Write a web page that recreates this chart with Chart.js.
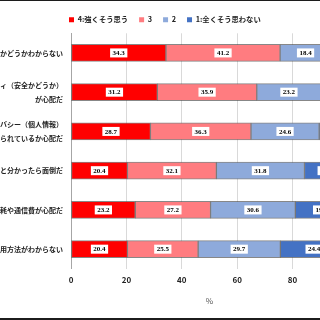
<!DOCTYPE html>
<html>
<head>
<meta charset="utf-8">
<script src="https://cdn.jsdelivr.net/npm/chart.js@4"></script>
<style>
  html, body { margin: 0; padding: 0; background: #fff; }
  #frame {
    position: relative; width: 320px; height: 320px; overflow: hidden;
    box-sizing: border-box; border-top: 1px solid #1c1c1c; border-bottom: 2px solid #1c1c1c;
  }
  #chart { position: absolute; left: -130px; top: -1px; }
</style>
</head>
<body>
<div id="frame"><canvas id="chart" width="491" height="320"></canvas></div>
<script>
// ========= Data =========
const categories = [
  "役に立つかどうかわからない",
  ["セキュリティ（安全かどうか）", "が心配だ"],
  ["プライバシー（個人情報）", "が守られているか心配だ"],
  "使い方が難しいと分かったら面倒だ",
  "電池の消耗や通信費が心配だ",
  "利用方法がわからない"
];
const seriesNames = ["4:強くそう思う", "3", "2", "1:全くそう思わない"];
const strongly = [34.3, 31.2, 28.7, 20.4, 23.2, 20.4];
const agree = [41.2, 35.9, 36.3, 32.1, 27.2, 25.5];
const disagree = [18.4, 23.2, 24.6, 31.8, 30.6, 29.7];
const notAtAll = [6.1, 9.7, 10.4, 15.7, 19.0, 24.4];
const xTicks = [0, 20, 40, 60, 80, 100];

const colors = ["#ff0000", "#ff7c80", "#8eaadb", "#4472c4"];
const jp = '"Noto Sans CJK JP", "Noto Sans", sans-serif';

// ========= Plugins =========
// value labels in white boxes at the middle of each segment
const valueLabels = {
  id: "valueLabels",
  afterDatasetsDraw(chart) {
    const ctx = chart.ctx;
    ctx.save();
    ctx.font = 'bold 7px "Liberation Serif", serif';
    ctx.textAlign = "center";
    ctx.textBaseline = "middle";
    chart.data.datasets.forEach((ds, i) => {
      chart.getDatasetMeta(i).data.forEach((bar, j) => {
        const txt = ds.data[j].toFixed(1);
        const cx = (bar.x + bar.base) / 2;
        const w = ctx.measureText(txt).width + 5;
        ctx.fillStyle = "#fff";
        ctx.fillRect(cx - w / 2, bar.y - 4.5, w, 9);
        ctx.fillStyle = "#000";
        ctx.fillText(txt, cx, bar.y + 0.5);
      });
    });
    ctx.restore();
  }
};

// legend starts at the left edge of the plot
const legendShift = {
  id: "legendShift",
  afterLayout(chart) {
    const lg = chart.legend;
    lg.left = chart.chartArea.left - 2 - lg.options.labels.padding;
  }
};

// ========= Chart =========
new Chart(document.getElementById("chart"), {
  type: "bar",
  data: {
    labels: categories,
    datasets: [strongly, agree, disagree, notAtAll].map((d, i) => ({
      label: seriesNames[i],
      data: d,
      backgroundColor: colors[i],
      borderColor: "rgba(70,70,70,0.65)",
      borderWidth: 1,
      borderSkipped: false,
      barThickness: 17
    }))
  },
  options: {
    indexAxis: "y",
    responsive: false,
    animation: false,
    layout: { padding: { top: 5, left: 0, right: 12, bottom: 10 } },
    plugins: {
      tooltip: { enabled: false },
      legend: {
        position: "top",
        align: "start",
        fullSize: false,
        labels: {
          boxWidth: 5,
          boxHeight: 5,
          padding: 11,
          color: "#222",
          font: { family: jp, size: 7.3, weight: "bold" },
          generateLabels: chart =>
            Chart.defaults.plugins.legend.labels.generateLabels(chart).map(l => ({ ...l, lineWidth: 0 }))
        }
      }
    },
    scales: {
      x: {
        stacked: true,
        min: 0,
        max: 100,
        afterBuildTicks: s => { s.ticks = xTicks.map(v => ({ value: v })); },
        ticks: { padding: 6, color: "#222", font: { family: jp, size: 8, weight: "bold" } },
        grid: { color: "#d9d9d9", drawTicks: false },
        border: { display: false },
        title: { display: true, text: "%", color: "#555", font: { family: jp, size: 8 }, padding: { top: 6, bottom: 4 } }
      },
      y: {
        stacked: true,
        grid: { display: false, drawTicks: false },
        border: { color: "#a6a6a6" },
        ticks: { padding: 8, color: "#222", font: { family: jp, size: 7, weight: "bold", lineHeight: 2 } },
        afterFit: s => { s.width = 201; }
      }
    }
  },
  plugins: [valueLabels, legendShift]
});
</script>
</body>
</html>
